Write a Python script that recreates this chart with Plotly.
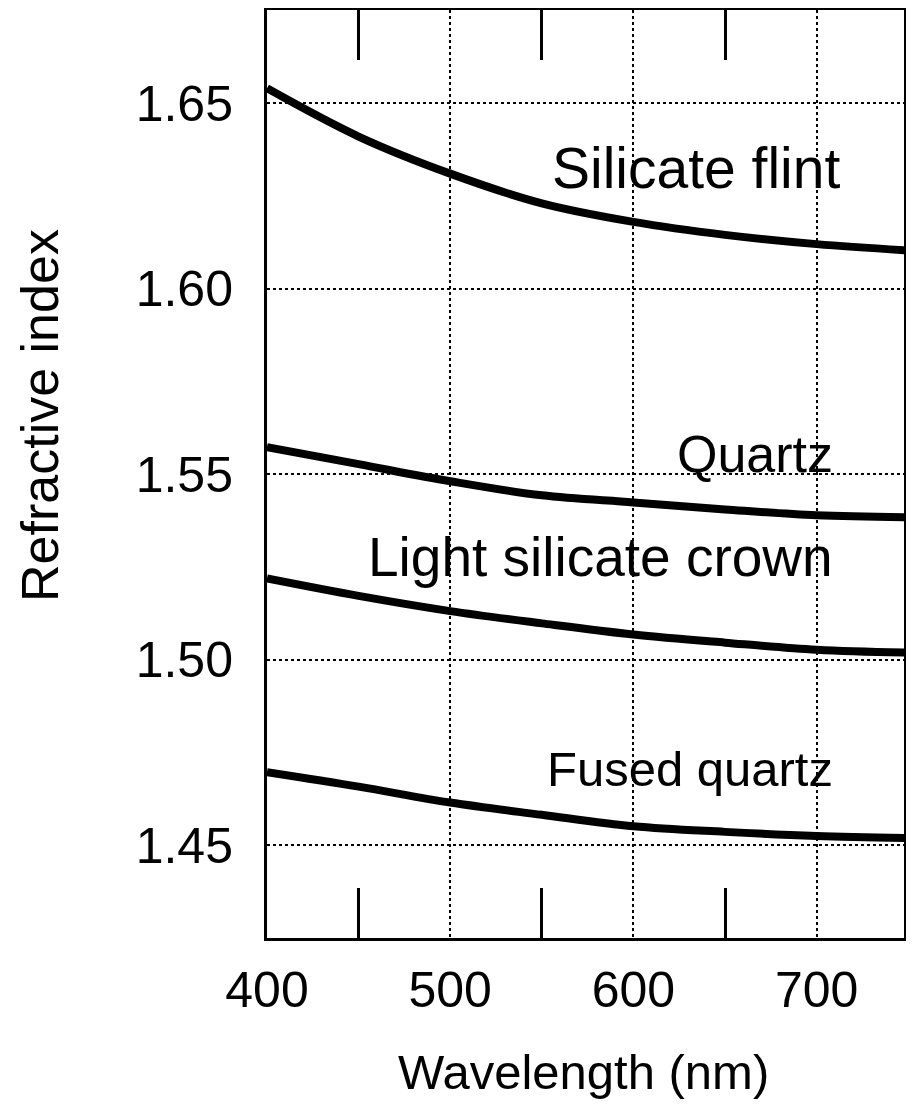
import plotly.graph_objects as go

wavelength = [400, 450, 500, 550, 600, 650, 700, 750]
silicate_flint = [1.654, 1.641, 1.631, 1.623, 1.618, 1.6145, 1.612, 1.6103]
quartz = [1.5573, 1.5527, 1.5481, 1.5443, 1.5424, 1.5405, 1.5389, 1.5384]
light_silicate_crown = [1.5219, 1.5172, 1.5131, 1.5098, 1.5068, 1.5046, 1.5027, 1.5019]
fused_quartz = [1.4697, 1.4658, 1.4615, 1.4582, 1.4551, 1.4536, 1.4525, 1.4519]

series_names = ["Silicate flint", "Quartz", "Light silicate crown", "Fused quartz"]
series_values = [silicate_flint, quartz, light_silicate_crown, fused_quartz]
label_x = [714, 710, 710, 710]
label_y = [1.6324, 1.5555, 1.5277, 1.4705]
label_sizes = [57, 52, 55, 49]

x_ticks = [400, 500, 600, 700]
x_minor = [450, 550, 650]
y_ticks = [1.45, 1.50, 1.55, 1.60, 1.65]
y_tick_text = ["1.45", "1.50", "1.55", "1.60", "1.65"]

FONT = "Liberation Sans, Arial, sans-serif"

fig = go.Figure()
for name, vals in zip(series_names, series_values):
    fig.add_trace(go.Scatter(x=wavelength, y=vals, mode="lines", name=name,
                             line=dict(color="black", width=8, shape="spline"),
                             showlegend=False, cliponaxis=True))

for name, lx, ly, fs in zip(series_names, label_x, label_y, label_sizes):
    fig.add_annotation(x=lx, y=ly, text=name, showarrow=False, xanchor="right",
                       yanchor="middle", font=dict(family=FONT, size=fs, color="black"))

fig.add_annotation(xref="paper", yref="paper", x=0.4976, y=-0.1445, text="Wavelength (nm)",
                   showarrow=False, xanchor="center", yanchor="middle",
                   font=dict(family=FONT, size=49, color="black"))
fig.add_annotation(xref="paper", yref="paper", x=-0.3564, y=0.5636, text="Refractive index",
                   showarrow=False, xanchor="center", yanchor="middle", textangle=-90,
                   font=dict(family=FONT, size=52, color="black"))

fig.update_xaxes(range=[400, 747.7], tickvals=x_ticks, ticks="", showgrid=True,
                 gridcolor="black", gridwidth=1.5, griddash="dot",
                 showline=True, linecolor="black", linewidth=3, mirror="allticks",
                 tickfont=dict(family=FONT, size=50, color="black"),
                 ticklabelstandoff=6, zeroline=False, automargin=False,
                 minor=dict(tickvals=x_minor, ticks="inside", ticklen=50, tickwidth=3,
                            tickcolor="black", showgrid=False))
fig.update_yaxes(range=[1.425, 1.6751], tickvals=y_ticks, ticktext=y_tick_text, ticks="",
                 showgrid=True, gridcolor="black", gridwidth=1.5, griddash="dot",
                 showline=True, linecolor="black", linewidth=3, mirror=True,
                 tickfont=dict(family=FONT, size=50, color="black"),
                 ticklabelstandoff=21, zeroline=False, automargin=False)

fig.update_layout(width=898, height=1093, margin=dict(l=259, r=2, t=2, b=163),
                  plot_bgcolor="white", paper_bgcolor="white")

fig.write_html("out.html")
